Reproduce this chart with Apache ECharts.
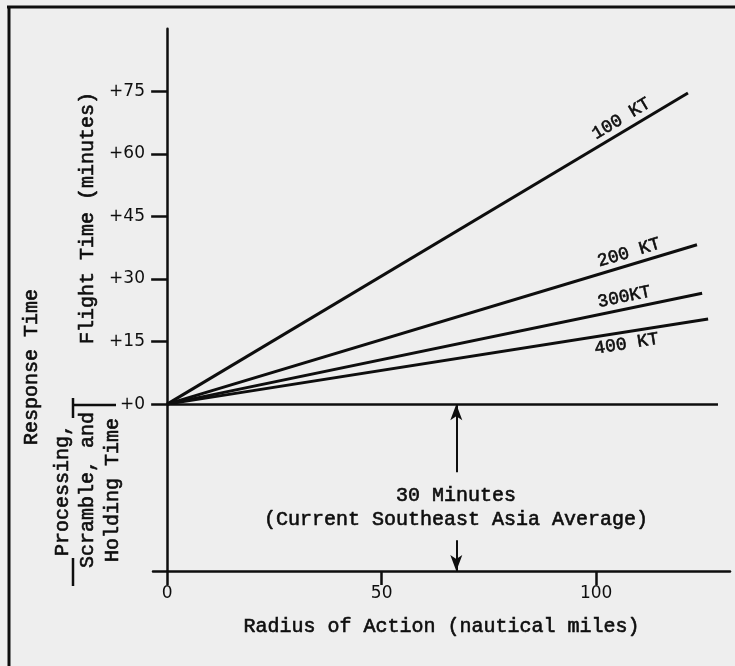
<!DOCTYPE html>
<html><head><meta charset="utf-8">
<script src="https://cdn.jsdelivr.net/npm/echarts@6/dist/echarts.min.js"></script>
<style>html,body{margin:0;padding:0;background:#eeeeee}#c{width:735px;height:666px}</style>
</head><body><div id="c"></div>
<script>
// ---- data ----
const speedNames = ['100 KT', '200 KT', '300KT', '400 KT'];
const lineEndRadius = [121.4, 123.5, 124.7, 126.1];   // nautical miles
const lineEndMinutes = [74.6, 38.2, 26.6, 20.4];      // minutes
const yTickValues = [0, 15, 30, 45, 60, 75];
const xTickValues = [0, 50, 100];
const zeroLineEnd = 128.4;           // extent of the +0 reference line (nm)
const arrowRadius = 67.4;            // where the 30-minute arrow stands (nm)
const arrowUpper = [-16.3, 0];       // minutes
const arrowLower = [-32.6, -40];     // minutes
const axisMinutes = [-40, 90];
const axisRadius = [-3.3, 131.2];

const INK = '#0e0e0e';
const MONO = '"Liberation Mono", "Courier New", monospace';
const SANS = '"DejaVu Sans", sans-serif';
const THICK = 0.6;

const labelCfg = {
  '100 KT': { pos: 'insideEndTop', along: 38 },
  '200 KT': { pos: 'insideEndTop', along: 35 },
  '300KT': { pos: 'insideEndTop', along: 50 },
  '400 KT': { pos: 'insideEndBottom', along: 52 }
};

const series = speedNames.map((name, i) => ({
  name, type: 'line', symbol: 'none', silent: true, z: 3,
  data: [[0, 0], [lineEndRadius[i], lineEndMinutes[i]]],
  lineStyle: { color: INK, width: 3 },
  markLine: {
    silent: true, symbol: 'none', lineStyle: { color: 'rgba(0,0,0,0)', width: 0 },
    label: {
      show: true, position: labelCfg[name].pos, distance: [labelCfg[name].along, 3],
      formatter: () => name, fontFamily: MONO, fontSize: 18, color: INK, opacity: 1,
      textBorderColor: INK, textBorderWidth: THICK
    },
    data: [[{ coord: [0, 0] }, { coord: [lineEndRadius[i], lineEndMinutes[i]] }]]
  }
}));

series.push({
  name: 'zero', type: 'line', symbol: 'none', silent: true, data: [[0, 0]],
  markLine: {
    silent: true, symbol: 'none', label: { show: false },
    lineStyle: { color: INK, width: 2.5, type: 'solid' },
    data: [[{ coord: [0, 0] }, { coord: [zeroLineEnd, 0] }]]
  }
});
series.push({
  name: 'arrows', type: 'line', symbol: 'none', silent: true, data: [[0, 0]],
  markLine: {
    silent: true, symbol: ['none', 'arrow'], symbolSize: [9, 16], label: { show: false },
    lineStyle: { color: INK, width: 2, type: 'solid' },
    data: [
      [{ coord: [arrowRadius, arrowUpper[0]] }, { coord: [arrowRadius, arrowUpper[1]] }],
      [{ coord: [arrowRadius, arrowLower[0]] }, { coord: [arrowRadius, arrowLower[1]] }]
    ]
  }
});

const monoStyle = (t) => ({
  text: t, fontFamily: MONO, fontSize: 20, fill: INK, stroke: INK, lineWidth: THICK,
  align: 'center', verticalAlign: 'middle'
});
const vtext = (t, x, y) => ({
  type: 'text', x, y, rotation: Math.PI / 2, silent: true, style: monoStyle(t)
});
const htext = (t, x, y) => ({ type: 'text', x, y, silent: true, style: monoStyle(t) });
const seg = (x1, y1, x2, y2, w) => ({
  type: 'line', silent: true, shape: { x1, y1, x2, y2 }, style: { stroke: INK, lineWidth: w || 2 }
});

const chart = echarts.init(document.getElementById('c'), null, { renderer: 'canvas' });
chart.setOption({
  backgroundColor: '#eeeeee',
  animation: false,
  grid: { left: 153, right: 5, top: 28.7, bottom: 95, containLabel: false, outerBoundsMode: 'none' },
  xAxis: {
    type: 'value', min: axisRadius[0], max: axisRadius[1],
    axisLine: { show: true, onZero: false, lineStyle: { color: INK, width: 2.5 } },
    axisTick: { show: true, customValues: xTickValues, length: 14, lineStyle: { color: INK, width: 2.5 } },
    axisLabel: { customValues: xTickValues, margin: 14, fontFamily: SANS, fontSize: 17, color: INK },
    splitLine: { show: false },
    name: 'Radius of Action (nautical miles)', nameLocation: 'middle', nameGap: 46,
    nameTextStyle: { fontFamily: MONO, fontSize: 20, color: INK, textBorderColor: INK, textBorderWidth: THICK }
  },
  yAxis: {
    type: 'value', min: axisMinutes[0], max: axisMinutes[1],
    axisLine: { show: true, onZero: true, lineStyle: { color: INK, width: 2.5 } },
    axisTick: { show: true, customValues: yTickValues, length: 16, lineStyle: { color: INK, width: 2.5 } },
    axisLabel: { customValues: yTickValues, margin: 8, formatter: v => '+' + v, fontFamily: SANS, fontSize: 17, color: INK },
    splitLine: { show: false }
  },
  series,
  graphic: [
    seg(7, 7, 735, 7, 3),
    seg(9, 7, 9, 666, 3),
    vtext('Response Time', 32, 367),
    vtext('Flight Time (minutes)', 88, 218),
    vtext('Processing,', 63, 490),
    vtext('Scramble, and', 88, 490),
    vtext('Holding Time', 113, 490),
    seg(73, 398, 73, 418, 2.5),
    seg(73, 405, 116, 405, 2.5),
    seg(73, 558, 73, 586, 2.5),
    htext('30 Minutes', 456, 496),
    htext('(Current Southeast Asia Average)', 456, 520)
  ]
});
</script></body></html>
